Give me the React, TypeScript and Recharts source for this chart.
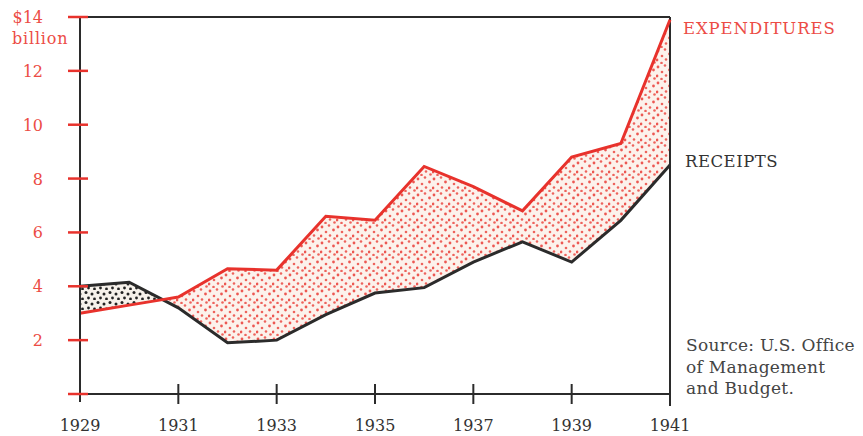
import React from "react";
import {
  ComposedChart,
  Line,
  Area,
  XAxis,
  YAxis,
  ReferenceLine,
} from "recharts";

const YEARS = [1929, 1930, 1931, 1932, 1933, 1934, 1935, 1936, 1937, 1938, 1939, 1940, 1941];
const EXPENDITURES = [3.0, 3.3, 3.6, 4.65, 4.6, 6.6, 6.45, 8.45, 7.7, 6.8, 8.8, 9.3, 13.9];
const RECEIPTS = [4.0, 4.15, 3.2, 1.9, 2.0, 2.95, 3.75, 3.95, 4.9, 5.65, 4.9, 6.45, 8.5];
const X_TICKS = [1929, 1931, 1933, 1935, 1937, 1939, 1941];
const Y_TICKS = [0, 2, 4, 6, 8, 10, 12, 14];

const RED = "#e8322c";
const RED_TEXT = "#ec4c45";
const DARK = "#2b2b2b";
const SERIF = "'DejaVu Serif', serif";

type Row = {
  year: number;
  exp: number;
  rec: number;
  deficit?: [number, number];
  surplus?: [number, number];
};

// build rows, adding the point where the two lines cross so each band closes cleanly
const buildRows = (): Row[] => {
  const rows: Row[] = [];
  YEARS.forEach((yr, i) => {
    const e = EXPENDITURES[i];
    const r = RECEIPTS[i];
    rows.push({
      year: yr,
      exp: e,
      rec: r,
      deficit: e >= r ? [r, e] : undefined,
      surplus: r > e ? [e, r] : undefined,
    });
    if (i < YEARS.length - 1) {
      const d0 = e - r;
      const d1 = EXPENDITURES[i + 1] - RECEIPTS[i + 1];
      if (d0 * d1 < 0) {
        const t = d0 / (d0 - d1);
        const cx = yr + t * (YEARS[i + 1] - yr);
        const cy = e + t * (EXPENDITURES[i + 1] - e);
        rows.push({ year: cx, exp: cy, rec: cy, deficit: [cy, cy], surplus: [cy, cy] });
      }
    }
  });
  return rows;
};

const rows = buildRows();

const YTick = (props: any) => {
  const { x, y, payload } = props;
  const v = payload.value;
  const label = v === 14 ? "$14" : v === 0 ? "" : String(v);
  return (
    <g>
      <line x1={x - 12} x2={x + 8} y1={y} y2={y} stroke={RED} strokeWidth={2.5} />
      <text x={x - 37} y={y + 6} fill={RED_TEXT} fontSize={16} fontFamily={SERIF} textAnchor="end">
        {label}
      </text>
      {v === 14 && (
        <text x={x - 68} y={y + 27} fill={RED_TEXT} fontSize={16} fontFamily={SERIF} letterSpacing={0.8}>
          billion
        </text>
      )}
    </g>
  );
};

const XTick = (props: any) => {
  const { x, y, payload } = props;
  const v = payload.value;
  const showMark = v !== X_TICKS[0] && v !== X_TICKS[X_TICKS.length - 1];
  return (
    <g>
      {showMark && <line x1={x} x2={x} y1={y - 10} y2={y + 10} stroke={DARK} strokeWidth={2} />}
      <text x={x} y={y + 37} fill="#333" fontSize={16} fontFamily={SERIF} textAnchor="middle">
        {v}
      </text>
    </g>
  );
};

export default function App() {
  return (
    <div style={{ position: "absolute", left: 0, top: 0, width: 863, height: 436, background: "#fff" }}>
      <ComposedChart
        width={863}
        height={436}
        data={rows}
        margin={{ top: 17, right: 193, left: 0, bottom: 12 }}
      >
        <defs>
          <pattern id="redDots" width="16" height="16" patternUnits="userSpaceOnUse">
            <rect width="16" height="16" fill="#fcf2ec" />
            <circle cx="2" cy="3" r="1.4" fill={RED} opacity={0.8} />
            <circle cx="9" cy="1.5" r="1.3" fill={RED} opacity={0.75} />
            <circle cx="13.5" cy="6" r="1.4" fill={RED} opacity={0.8} />
            <circle cx="6" cy="8" r="1.3" fill={RED} opacity={0.75} />
            <circle cx="1" cy="12" r="1.4" fill={RED} opacity={0.8} />
            <circle cx="10" cy="11.5" r="1.3" fill={RED} opacity={0.75} />
            <circle cx="14.5" cy="14.5" r="1.3" fill={RED} opacity={0.75} />
            <circle cx="5.5" cy="15" r="1.3" fill={RED} opacity={0.75} />
          </pattern>
          <pattern id="blackDots" width="12" height="10" patternUnits="userSpaceOnUse">
            <rect width="12" height="10" fill="#f6f1ea" />
            <circle cx="2" cy="2.5" r="1.5" fill="#222" />
            <circle cx="8" cy="4" r="1.5" fill="#222" />
            <circle cx="4.5" cy="8" r="1.4" fill="#222" />
            <circle cx="10.5" cy="9" r="1.4" fill="#222" />
          </pattern>
        </defs>
        <XAxis
          dataKey="year"
          type="number"
          domain={[1929, 1941]}
          ticks={X_TICKS}
          tick={<XTick />}
          tickLine={false}
          tickSize={0}
          tickMargin={0}
          height={30}
          stroke={DARK}
          strokeWidth={2}
        />
        <YAxis
          type="number"
          domain={[0, 14]}
          ticks={Y_TICKS}
          tick={<YTick />}
          tickLine={false}
          tickSize={0}
          tickMargin={0}
          width={80}
          stroke={DARK}
          strokeWidth={2}
        />
        <ReferenceLine y={14} stroke={DARK} strokeWidth={2} />
        <ReferenceLine
          segment={[{ x: 1941, y: -0.45 }, { x: 1941, y: 14 }]}
          stroke={DARK}
          strokeWidth={2}
          ifOverflow="visible"
        />
        <ReferenceLine
          segment={[{ x: 1929, y: -0.3 }, { x: 1929, y: 0 }]}
          stroke={DARK}
          strokeWidth={2}
          ifOverflow="visible"
        />
        <Area
          dataKey="surplus"
          type="linear"
          stroke="none"
          fill="url(#blackDots)"
          fillOpacity={1}
          isAnimationActive={false}
        />
        <Area
          dataKey="deficit"
          type="linear"
          stroke="none"
          fill="url(#redDots)"
          fillOpacity={1}
          isAnimationActive={false}
        />
        <Line
          dataKey="rec"
          type="linear"
          stroke={DARK}
          strokeWidth={3}
          dot={false}
          isAnimationActive={false}
        />
        <Line
          dataKey="exp"
          type="linear"
          stroke={RED}
          strokeWidth={3}
          dot={false}
          isAnimationActive={false}
        />
      </ComposedChart>
      <div style={{ position: "absolute", left: 683, top: 19, color: RED_TEXT, fontFamily: SERIF, fontSize: 16.5, letterSpacing: 0.9, lineHeight: "20px" }}>
        EXPENDITURES
      </div>
      <div style={{ position: "absolute", left: 685, top: 152, color: "#333", fontFamily: SERIF, fontSize: 16.5, letterSpacing: 0.5, lineHeight: "20px" }}>
        RECEIPTS
      </div>
      <div style={{ position: "absolute", left: 686, top: 335, color: "#444", fontFamily: SERIF, fontSize: 17, letterSpacing: 0.3, lineHeight: "21.5px" }}>
        Source: U.S. Office
        <br />
        of Management
        <br />
        and Budget.
      </div>
    </div>
  );
}
